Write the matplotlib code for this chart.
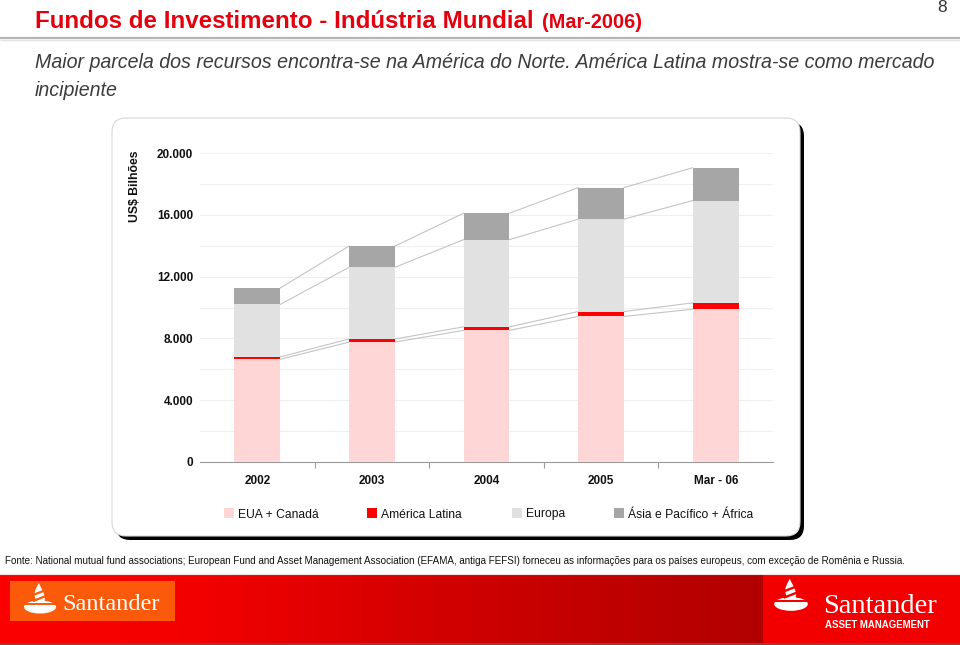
import numpy as np
import matplotlib
matplotlib.use("Agg")
import matplotlib.pyplot as plt
from matplotlib import font_manager
from matplotlib.patches import FancyBboxPatch, Rectangle, Ellipse, PathPatch
from matplotlib.path import Path
from matplotlib.ticker import FixedLocator, FuncFormatter

# ---------------- data ----------------
categories = ["2002", "2003", "2004", "2005", "Mar - 06"]
series_names = ["EUA + Canadá", "América Latina", "Europa", "Ásia e Pacífico + África"]
eua_canada = [6650, 7760, 8520, 9420, 9890]
america_latina = [150, 200, 230, 320, 410]
europa = [3400, 4640, 5640, 5980, 6620]
asia_pacifico_africa = [1060, 1370, 1715, 2040, 2130]
y_ticks = [0, 4000, 8000, 12000, 16000, 20000]

title = "Fundos de Investimento - Indústria Mundial"
title_suffix = "(Mar-2006)"
subtitle_1 = "Maior parcela dos recursos encontra-se na América do Norte. América Latina mostra-se como mercado"
subtitle_2 = "incipiente"
y_label = "US$ Bilhões"
source = ("Fonte: National mutual fund associations; European Fund and Asset Management Association "
          "(EFAMA, antiga FEFSI) forneceu as informações para os países europeus, com exceção de Romênia e Russia.")
page_number = "8"

colors = ["#ffd6d6", "#ff0000", "#e1e1e1", "#a6a6a6"]

names = {f.name for f in font_manager.fontManager.ttflist}
SANS = "Liberation Sans"
SERIF = "Liberation Serif" if "Liberation Serif" in names else "DejaVu Serif"

W, H = 960, 645
fig = plt.figure(figsize=(W / 100, H / 100), dpi=100)
fig.patch.set_facecolor("white")

# background axes in pixel coordinates
bg = fig.add_axes([0, 0, 1, 1])
bg.set_xlim(0, W)
bg.set_ylim(H, 0)
bg.axis("off")

# title
t = bg.text(35, 28, title, fontsize=17.4, fontweight="bold", color="#e3000f",
            family=SANS, va="baseline", ha="left")
bg.text(942, 8, page_number, fontsize=12.5, color="#333333", family=SANS, ha="center", va="center")
bg.plot([0, W], [38, 38], color="#b5b5b5", lw=1.6, solid_capstyle="butt")
bg.plot([0, W], [39.5, 39.5], color="#e4e4e4", lw=1.0, solid_capstyle="butt")

bg.text(35, 68, subtitle_1, fontsize=14.1, style="italic", color="#3c3c3c", family=SANS,
        va="baseline", ha="left")
bg.text(35, 96, subtitle_2, fontsize=14.1, style="italic", color="#3c3c3c", family=SANS,
        va="baseline", ha="left")

# chart box with shadow
bg.add_patch(FancyBboxPatch((116, 122), 688, 418, boxstyle="round,pad=0,rounding_size=14",
                            facecolor="black", edgecolor="black", lw=0, zorder=1))
bg.add_patch(FancyBboxPatch((112, 118), 688, 418, boxstyle="round,pad=0,rounding_size=14",
                            facecolor="white", edgecolor="#d8d8d8", lw=0.8, zorder=2))

bg.text(135, 186, y_label, rotation=90, fontsize=8.8, fontweight="bold", family=SANS,
        ha="center", va="center", color="#111111", zorder=3)

# legend (manual)
leg_x = [224, 367, 512, 614]
for c, name, lx in zip(colors, series_names, leg_x):
    bg.add_patch(Rectangle((lx, 508), 10, 10, facecolor=c, edgecolor="none", zorder=3))
    bg.text(lx + 14, 517.5, name, fontsize=8.7, family=SANS, va="baseline", ha="left",
            color="#111111", zorder=3)

# source
bg.text(5, 564.5, source, fontsize=7.15, family=SANS, va="baseline", ha="left", color="#111111")

# banner gradient
xs = np.arange(W)
stops_x = [0, 200, 450, 650, 762, 763, 960]
r = np.interp(xs, stops_x, [252, 242, 208, 188, 178, 242, 242])
g = np.zeros_like(r)
b = np.zeros_like(r)
grad = np.stack([r, g, b], axis=-1)[None, :, :] / 255.0
bg.imshow(grad, extent=[0, W, 643, 574], aspect="auto", zorder=1)
bg.plot([0, W], [643.5, 643.5], color="#8a1010", lw=1.2)
bg.plot([0, W], [573.5, 573.5], color="#f4dede", lw=0.8)

# left logo box
bg.add_patch(Rectangle((10, 581), 165, 40, facecolor="#fa5a0a", edgecolor="none", zorder=2))


def flame(cx, by, s, bgcol):
    # base (bowl)
    bg.add_patch(Ellipse((cx, by), 32 * s, 13 * s, facecolor="white", edgecolor="none", zorder=4))
    # flame
    verts = [(cx - 1 * s, by - 4 * s),
             (cx - 8 * s, by - 10 * s), (cx - 6 * s, by - 16 * s), (cx - 1 * s, by - 24 * s),
             (cx + 1 * s, by - 18 * s), (cx + 7 * s, by - 12 * s), (cx + 4 * s, by - 4 * s),
             (cx - 1 * s, by - 4 * s)]
    codes = [Path.MOVETO, Path.CURVE4, Path.CURVE4, Path.CURVE4,
             Path.CURVE4, Path.CURVE4, Path.CURVE4, Path.CLOSEPOLY]
    bg.add_patch(PathPatch(Path(verts, codes), facecolor="white", edgecolor="none", zorder=4))
    for dy in (9, 15):
        bg.plot([cx - 7 * s, cx + 6 * s], [by - dy * s + 3 * s, by - dy * s - 2 * s],
                color=bgcol, lw=1.6 * s, zorder=5, solid_capstyle="butt")
    bg.plot([cx - 17 * s, cx + 17 * s], [by - 3.2 * s, by - 3.2 * s], color=bgcol, lw=1.4 * s, zorder=5)


flame(40, 607, 1.0, "#fa5a0a")
bg.text(62, 610, "Santander", fontsize=17.5, family=SERIF, color="white", va="baseline", ha="left", zorder=4)

flame(791, 604, 1.05, "#f20000")
bg.text(823, 613, "Santander", fontsize=20.5, family=SERIF, color="white", va="baseline", ha="left", zorder=4)
bg.text(825, 628, "ASSET MANAGEMENT", fontsize=6.9, family=SANS, fontweight="bold", color="white",
        va="baseline", ha="left", zorder=4)

# ---------------- chart ----------------
ax = fig.add_axes([200 / W, 1 - 462 / H, 573 / W, 309 / H])
ax.patch.set_visible(False)
x = np.arange(len(categories))
bw = 0.40
series = [eua_canada, america_latina, europa, asia_pacifico_africa]
bottom = np.zeros(len(categories))
for vals, c in zip(series, colors):
    vals = np.asarray(vals, dtype=float)
    ax.bar(x, vals, bw, bottom=bottom, color=c, edgecolor="none", zorder=3)
    top = bottom + vals
    for i in range(len(categories) - 1):
        ax.plot([x[i] + bw / 2, x[i + 1] - bw / 2], [top[i], top[i + 1]],
                color="#c4c4c4", lw=0.8, zorder=2)
    bottom = top

ax.set_xlim(-0.5, len(categories) - 0.5)
ax.set_ylim(0, 20000)
ax.yaxis.set_major_locator(FixedLocator(y_ticks))
ax.yaxis.set_minor_locator(FixedLocator(np.arange(2000, 20001, 4000)))
ax.yaxis.set_major_formatter(FuncFormatter(lambda v, p: f"{int(v):,}".replace(",", ".")))
ax.grid(axis="y", which="both", color="#efefef", lw=0.8, zorder=0)
ax.set_xticks(x)
ax.set_xticklabels(categories)
ax.xaxis.set_minor_locator(FixedLocator(np.arange(0.5, len(categories) - 1, 1.0)))
ax.tick_params(axis="x", which="major", length=0, pad=9)
ax.tick_params(axis="x", which="minor", length=4, color="#9a9a9a", width=0.8, direction="out")
ax.tick_params(axis="y", which="both", length=0, pad=5)
for lab in ax.get_xticklabels() + ax.get_yticklabels():
    lab.set_fontfamily(SANS)
    lab.set_fontsize(8.5)
    lab.set_fontweight("bold")
    lab.set_color("#111111")
for s in ["left", "right", "top"]:
    ax.spines[s].set_visible(False)
ax.spines["bottom"].set_color("#9a9a9a")
ax.spines["bottom"].set_linewidth(0.8)

# place title suffix right after the title
fig.canvas.draw()
bb = t.get_window_extent()
bg.text(bb.x1 + 8, 28, title_suffix, fontsize=14.3, fontweight="bold", color="#e3000f",
        family=SANS, va="baseline", ha="left")

fig.savefig("out.png", dpi=100)
